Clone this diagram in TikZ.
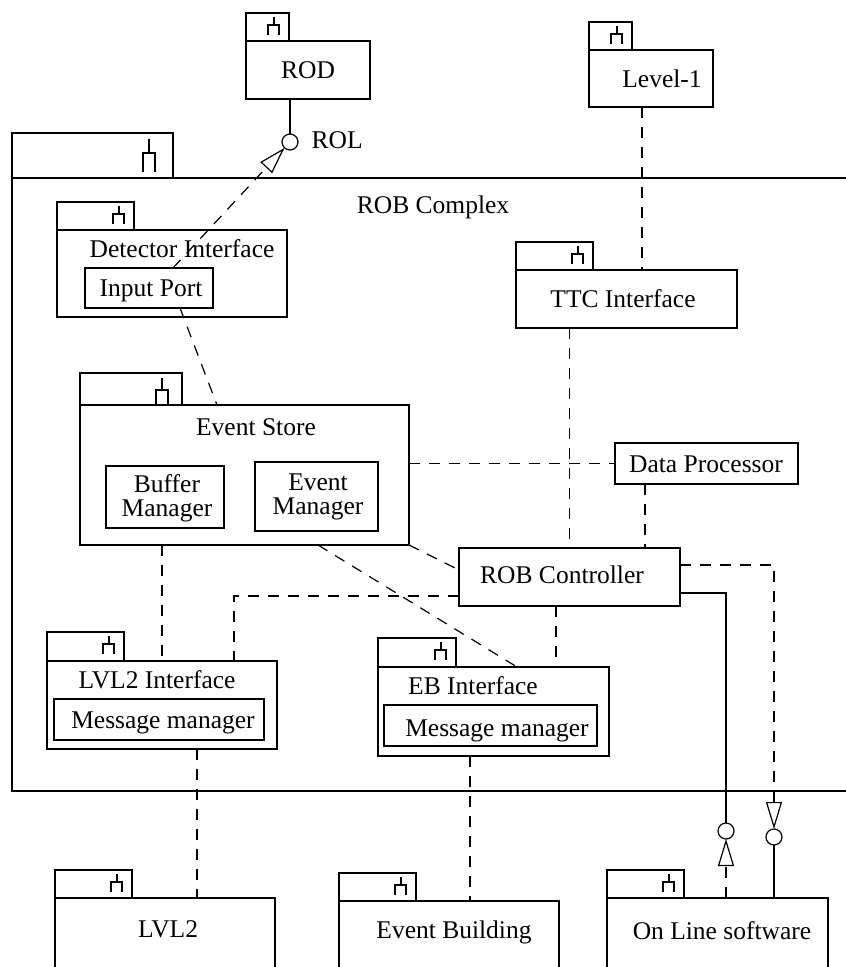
\documentclass[tikz,border=0pt]{standalone}
\usepackage{fontspec}
\setmainfont{Liberation Serif}
\usetikzlibrary{arrows.meta}
\begin{document}
\begin{tikzpicture}[x=1pt,y=-1pt,line width=1.2pt,
  box/.style={draw,rectangle,inner sep=0pt,outer sep=0pt,anchor=north west},
  tabbox/.style={draw,rectangle,inner sep=0pt,outer sep=0pt,anchor=south west,minimum height=28pt},
  lbl/.style={inner sep=0pt,anchor=base,font=\fontsize{25.5}{30}\selectfont},
  twoline/.style={inner sep=0pt,anchor=center,align=center,font=\fontsize{25.5}{24}\selectfont},
  dep/.style={dash pattern=on 11pt off 9pt},
  port/.style={draw,circle,inner sep=0pt,outer sep=0pt,minimum size=16pt},
  realize/.style={-{Triangle[open,length=27pt,width=16pt]}},
  pkgmark/.pic={\draw (-15,4) -- (-15,12) (-21,22) -- (-21,12) -- (-10,12) -- (-10,22);}]
\useasboundingbox (0,0) rectangle (846,967);
\fill[white] (0,0) rectangle (846,967);

% helper coordinates for connector positions
\coordinate (v173) at (173,0);
\coordinate (v180) at (180,0);
\coordinate (v197) at (197,0);
\coordinate (v217) at (217,0);
\coordinate (v234) at (234,0);
\coordinate (v290) at (290,0);
\coordinate (v318) at (318,0);
\coordinate (v470) at (470,0);
\coordinate (v517) at (517,0);
\coordinate (v556) at (556,0);
\coordinate (v642) at (642,0);
\coordinate (v645) at (645,0);
\coordinate (h565) at (0,565);
\coordinate (h570) at (0,570);
\coordinate (h593) at (0,593);
\coordinate (h596) at (0,596);

% enclosing package
\node[box,minimum width=848pt,minimum height=613pt] (rob) at (12,178) {};
\node[tabbox,minimum width=161pt,minimum height=45pt] (robtab) at (rob.north west) {};
\draw (149,139) -- (149,153) (143,172) -- (143,153) -- (155,153) -- (155,172);
\node[lbl] (robname) at (433,213) {ROB Complex};

% external packages
\node[box,minimum width=124pt,minimum height=58pt] (rod) at (246,41) {};
\node[tabbox,minimum width=43pt] (rodtab) at (rod.north west) {};
\pic at (rodtab.north east) {pkgmark};
\node[lbl] (rodname) at (308,78) {ROD};

\node[box,minimum width=124pt,minimum height=57pt] (lv1) at (589,50) {};
\node[tabbox,minimum width=43pt] (lv1tab) at (lv1.north west) {};
\pic at (lv1tab.north east) {pkgmark};
\node[lbl] (lv1name) at (662,87) {Level-1};

\node[box,minimum width=220pt,minimum height=90pt] (lv2) at (55,898) {};
\node[tabbox,minimum width=77pt] (lv2tab) at (lv2.north west) {};
\pic at (lv2tab.north east) {pkgmark};
\node[lbl] (lv2name) at (168,937) {LVL2};

\node[box,minimum width=220pt,minimum height=90pt] (ebb) at (339,901) {};
\node[tabbox,minimum width=77pt] (ebbtab) at (ebb.north west) {};
\pic at (ebbtab.north east) {pkgmark};
\node[lbl] (ebbname) at (454,938) {Event Building};

\node[box,minimum width=221pt,minimum height=90pt] (ol) at (607,898) {};
\node[tabbox,minimum width=77pt] (oltab) at (ol.north west) {};
\pic at (oltab.north east) {pkgmark};
\node[lbl] (olname) at (722,939) {On Line software};

% inner packages
\node[box,minimum width=230pt,minimum height=87pt] (di) at (57,230) {};
\node[tabbox,minimum width=77pt] (ditab) at (di.north west) {};
\pic at (ditab.north east) {pkgmark};
\node[lbl] (diname) at (182,257) {Detector Interface};
\node[box,minimum width=128pt,minimum height=40pt] (ip) at (85,268) {};
\node[lbl] (ipname) at (151,296) {Input Port};

\node[box,minimum width=221pt,minimum height=58pt] (ttc) at (516,270) {};
\node[tabbox,minimum width=77pt] (ttctab) at (ttc.north west) {};
\pic at (ttctab.north east) {pkgmark};
\node[lbl] (ttcname) at (623,307) {TTC Interface};

\node[box,minimum width=329pt,minimum height=140pt] (es) at (80,405) {};
\node[tabbox,minimum width=102pt,minimum height=32pt] (estab) at (es.north west) {};
\draw (162,378) -- (162,390) (156,405) -- (156,390) -- (168,390) -- (168,405);
\node[lbl] (esname) at (256,435) {Event Store};
\node[box,minimum width=118pt,minimum height=62pt] (bm) at (106,466) {};
\node[twoline] (bmname) at (167,498) {Buffer\\Manager};
\node[box,minimum width=123pt,minimum height=69pt] (em) at (255,462) {};
\node[twoline] (emname) at (318,497) {Event\\Manager};

\node[box,minimum width=183pt,minimum height=41pt] (dp) at (615,443) {};
\node[lbl] (dpname) at (706,472) {Data Processor};

\node[box,minimum width=221pt,minimum height=58pt] (rc) at (459,548) {};
\node[lbl] (rcname) at (562,583) {ROB Controller};

\node[box,minimum width=230pt,minimum height=88pt] (lvi) at (47,661) {};
\node[tabbox,minimum width=77pt,minimum height=29pt] (lvitab) at (lvi.north west) {};
\pic at (lvitab.north east) {pkgmark};
\node[lbl] (lviname) at (157,688) {LVL2 Interface};
\node[box,minimum width=210pt,minimum height=41pt] (lvimm) at (54,699) {};
\node[lbl] (lvimmname) at (163,728) {Message manager};

\node[box,minimum width=231pt,minimum height=89pt] (ebi) at (378,667) {};
\node[tabbox,minimum width=78pt,minimum height=29pt] (ebitab) at (ebi.north west) {};
\pic at (ebitab.north east) {pkgmark};
\node[lbl] (ebiname) at (473,694) {EB Interface};
\node[box,minimum width=213pt,minimum height=41pt] (ebimm) at (384,705) {};
\node[lbl] (ebimmname) at (497,736) {Message manager};

% interface ports
\node[port] (rol) at (290,142) {};
\node[lbl,anchor=base west] (rolname) at (311,148) {ROL};
\node[port] (olp1) at (726,831) {};
\node[port] (olp2) at (774,837) {};

% connectors
\draw (rod.south -| v290) -- (rol);
\draw[dep,realize] (ip.north -| v173) -- (rol);
\draw[dep] (ip.south -| v180) -- (es.north -| v217);
\draw[dep] (lv1.south -| v642) -- (ttc.north -| v642);
\draw[dep] (ttc.south -| rc.north) -- (rc.north);
\draw[dep] (es.east |- dp.west) -- (dp.west);
\draw[dep] (dp.south -| v645) -- (rc.north -| v645);
\draw[dep] (es.south east) -- (rc.west |- h570);
\draw[dep] (rc.west |- h596) -| (lvi.north -| v234);
\draw[dep] (es.south -| v318) -- (ebi.north -| v517);
\draw[dep] (rc.south -| v556) -- (ebi.north -| v556);
\draw[dep] (es.south -| lvi.north) -- (lvi.north);
\draw (rc.east |- h593) -| (olp1);
\draw[dep,realize] (rc.east |- h565) -| (olp2);
\draw[dep,realize] (ol.north -| olp1) -- (olp1);
\draw (ol.north -| olp2) -- (olp2);
\draw[dep] (lvi.south -| v197) -- (lv2.north -| v197);
\draw[dep] (ebi.south -| v470) -- (ebb.north -| v470);
\end{tikzpicture}
\end{document}
